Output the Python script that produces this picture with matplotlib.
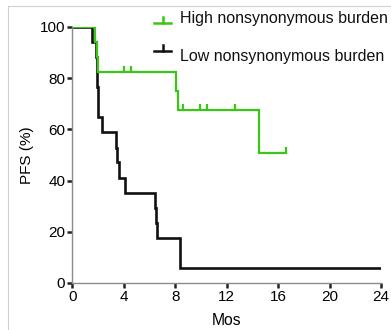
import matplotlib
matplotlib.use("Agg")
import matplotlib.pyplot as plt
from matplotlib.lines import Line2D

plt.rcParams['font.family'] = ['Liberation Sans', 'DejaVu Sans']

# Data
low_t = [0, 1.5, 1.85, 1.95, 2.0, 2.3, 3.4, 3.5, 3.6, 4.1, 6.4, 6.5, 6.6, 8.35, 24]
low_s = [100, 94.1, 88.2, 76.5, 64.7, 58.8, 52.9, 47.1, 41.2, 35.3, 29.4, 23.5, 17.6, 5.9, 5.9]

high_t = [0, 1.75, 1.9, 2.0, 8.1, 8.2, 14.55, 16.6]
high_s = [100, 94.1, 88.2, 82.4, 75.0, 67.4, 50.6, 50.6]
high_censor_t = [4.0, 4.55, 8.6, 9.9, 10.45, 12.65, 16.6]
high_censor_s = [82.4, 82.4, 67.4, 67.4, 67.4, 67.4, 50.6]

xticks = [0, 4, 8, 12, 16, 20, 24]
yticks = [0, 20, 40, 60, 80, 100]
labels = ["High nonsynonymous burden", "Low nonsynonymous burden"]

GREEN = '#3ac617'
BLACK = '#111111'

W, H = 391, 330
fig = plt.figure(figsize=(W / 100, H / 100), dpi=100)
ax = fig.add_axes([72.3 / W, 1 - 283 / H, (381 - 72.3) / W, (283 - 27) / H])

ax.step(low_t, low_s, where='post', color=BLACK, lw=1.9, solid_joinstyle='miter', zorder=2)
ax.step(high_t, high_s, where='post', color=GREEN, lw=1.6, solid_joinstyle='miter', zorder=3)
up_tick = [(0, 0), (0, 1)]
ax.plot(high_censor_t, high_censor_s, ls='none', marker=up_tick, ms=9,
        mew=1.6, color=GREEN, zorder=3)

ax.set_xlim(0, 24)
ax.set_ylim(0, 100)
ax.set_xticks(xticks)
ax.set_yticks(yticks)
for side in ['top', 'right']:
    ax.spines[side].set_visible(False)
for side in ['left', 'bottom']:
    ax.spines[side].set_color('#8a8a8a')
    ax.spines[side].set_linewidth(1.0)
ax.tick_params(axis='both', direction='out', length=3.8, width=1.8, color='#222222',
               labelsize=11, pad=1.2)
ax.set_xlabel('Mos', fontsize=11.3, labelpad=6.5)
ax.set_ylabel('PFS (%)', fontsize=11, labelpad=4)

# Legend drawn manually (pixel positions)
legend_rows = [(22.5, 23.2, GREEN, labels[0]), (50.5, 60.8, BLACK, labels[1])]
for (sym_y, base_y, col, lab) in legend_rows:
    yl = 1 - sym_y / H
    fig.add_artist(Line2D([154 / W, 171 / W], [yl, yl], color=col, lw=1.8,
                          transform=fig.transFigure))
    fig.add_artist(Line2D([162.5 / W, 162.5 / W], [yl, yl + 5.5 / H], color=col, lw=1.8,
                          transform=fig.transFigure))
    fig.text(180.5 / W, 1 - base_y / H, lab, fontsize=11.5, color='#111111',
             va='baseline', ha='left')

# light frame lines of the crop
fig.add_artist(Line2D([8 / W, 8 / W], [0, 1 - 6 / H], color='#d0d0d0', lw=0.8,
                      transform=fig.transFigure))
fig.add_artist(Line2D([8 / W, 1], [1 - 6 / H, 1 - 6 / H], color='#d0d0d0', lw=0.8,
                      transform=fig.transFigure))

fig.savefig('out.png', dpi=100)
